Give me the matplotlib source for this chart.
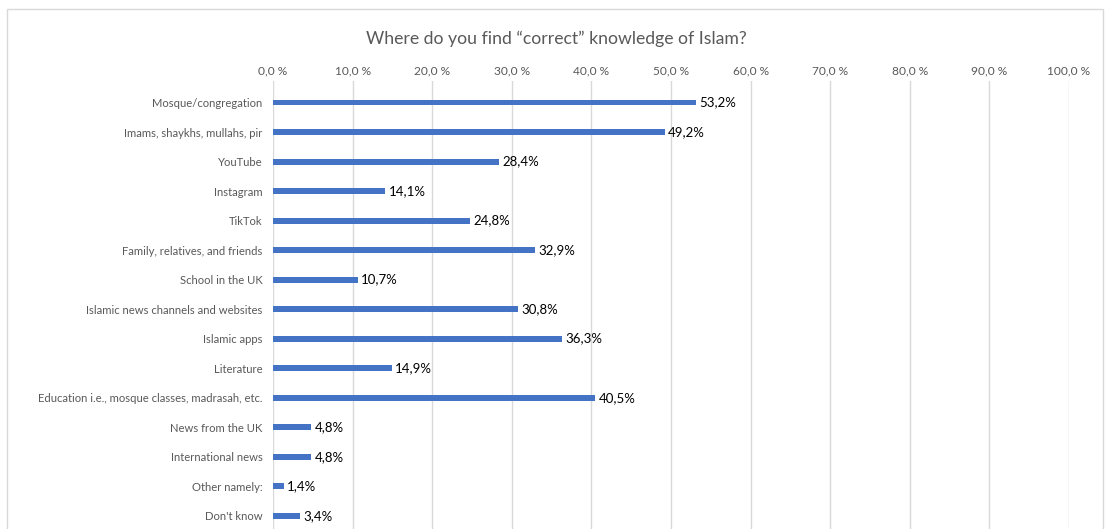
import numpy as np
import matplotlib.pyplot as plt
from matplotlib.patches import Rectangle

plt.rcParams['font.family'] = ['Lato', 'DejaVu Sans']

categories = [
    'Mosque/congregation',
    'Imams, shaykhs, mullahs, pir',
    'YouTube',
    'Instagram',
    'TikTok',
    'Family, relatives, and friends',
    'School in the UK',
    'Islamic news channels and websites',
    'Islamic apps',
    'Literature',
    'Education i.e., mosque classes, madrasah, etc.',
    'News from the UK',
    'International news',
    'Other namely:',
    "Don't know",
]
values = [53.2, 49.2, 28.4, 14.1, 24.8, 32.9, 10.7, 30.8, 36.3, 14.9, 40.5, 4.8, 4.8, 1.4, 3.4]
ticks = np.arange(0, 101, 10)

W, H = 1111, 529
fig = plt.figure(figsize=(W / 100, H / 100), dpi=100)

# light outer frame, bottom edge runs past the image
fig.patches.append(Rectangle((7 / W, -0.05), (1103 - 7) / W, 1.05 - 9 / H,
                             transform=fig.transFigure, fill=False,
                             edgecolor='#d9d9d9', linewidth=1))

ax = fig.add_axes([273 / W, 0, (1069 - 273) / W, 1 - 81 / H])
y = np.arange(len(categories))
ax.barh(y, values, height=0.2, color='#4472c4')
for yi, v in zip(y, values):
    ax.text(v + 0.4, yi, f'{v:.1f}%'.replace('.', ','), va='center', ha='left',
            fontsize=9.5, color='black')

ax.set_xlim(0, 100)
ax.set_ylim(14.45, -0.73)
ax.set_xticks(ticks)
ax.set_xticklabels([f'{t:.1f} %'.replace('.', ',') for t in ticks])
ax.xaxis.tick_top()
ax.set_yticks(y)
ax.set_yticklabels(categories)
ax.tick_params(axis='x', length=0, pad=3, labelsize=8.6, labelcolor='#595959')
ax.tick_params(axis='y', length=0, pad=7.5, labelsize=8.1, labelcolor='#595959')
ax.grid(axis='x', color='#d9d9d9', linewidth=1)
ax.set_axisbelow(True)
for s in ax.spines.values():
    s.set_visible(False)

fig.text(556 / W, 1 - 39 / H, 'Where do you find \u201ccorrect\u201d knowledge of Islam?',
         ha='center', va='center', fontsize=12.7, color='#595959')

fig.savefig('out.png', dpi=100)
